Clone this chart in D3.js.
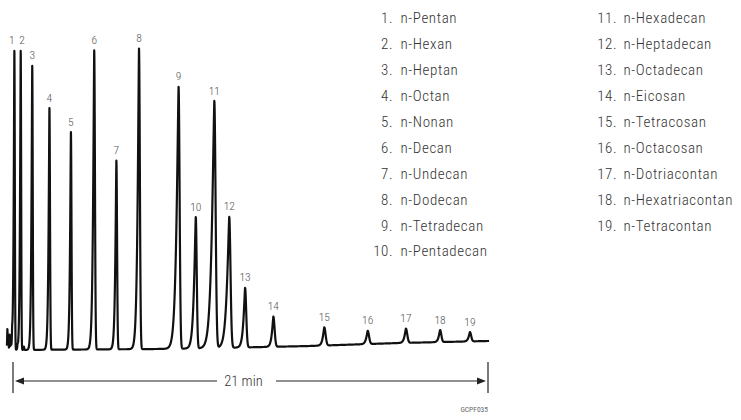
<!DOCTYPE html>
<html>
<head>
<meta charset="utf-8">
<script src="https://cdn.jsdelivr.net/npm/d3@7"></script>
<style>
  body { margin: 0; background: #fff; }
  svg { display: block; }
  text { font-family: "Liberation Sans Narrow", "Roboto Condensed", "DejaVu Sans Condensed", "Arial Narrow", sans-serif; }
</style>
</head>
<body>
<svg width="741" height="420"></svg>
<script>
// peak table
const compounds = ["n-Pentan", "n-Hexan", "n-Heptan", "n-Octan", "n-Nonan", "n-Decan", "n-Undecan",
  "n-Dodecan", "n-Tetradecan", "n-Pentadecan", "n-Hexadecan", "n-Heptadecan", "n-Octadecan",
  "n-Eicosan", "n-Tetracosan", "n-Octacosan", "n-Dotriacontan", "n-Hexatriacontan", "n-Tetracontan"];
const retention = [0.06, 0.34, 0.85, 1.61, 2.56, 3.59, 4.57, 5.57, 7.32, 8.08, 8.90, 9.56,
  10.26, 11.51, 13.76, 15.68, 17.37, 18.88, 20.20];
const heights = [99, 99, 94, 80, 72, 99, 62.5, 99.5, 86.7, 43.5, 81.8, 43.3, 19.7, 10, 6, 4.4, 4.7, 4, 3.1];
const leadWidth = [0.04, 0.04, 0.045, 0.05, 0.05, 0.065, 0.06, 0.08, 0.12, 0.1, 0.14, 0.13,
  0.09, 0.08, 0.08, 0.08, 0.08, 0.075, 0.075];
const tailWidth = [0.02, 0.02, 0.022, 0.025, 0.025, 0.032, 0.03, 0.038, 0.045, 0.042, 0.055, 0.055,
  0.05, 0.055, 0.06, 0.06, 0.06, 0.055, 0.055];

// solvent front junk at the start
const solventTimes = [-0.25, -0.21, -0.15, -0.1, -0.04, 0.2, 0.48];
const solventHeights = [6.8, 4.5, 5, 3.2, 3.5, 1.3, 1.1];

// baseline drift
const baselineTimes = [-0.3, 6, 8, 13, 17, 21.1];
const baselineLevels = [0, 0.3, 0.5, 1.3, 2.3, 3.0];

const runMinutes = 21;
const runLabel = "21 min";
const figureCode = "GCPF035";

const svg = d3.select("svg");

const x = d3.scaleLinear().domain([0, runMinutes]).range([13, 488]);
const y = d3.scaleLinear().domain([0, 100]).range([350, 48]);
const baseline = d3.scaleLinear().domain(baselineTimes).range(baselineLevels).clamp(true);

function peakShape(t, t0, h, wl, wr) {
  const d = t - t0;
  if (d < 0) return h * Math.exp(-Math.pow(-d / wl, 1.25));
  return h * Math.exp(-0.5 * (d / wr) * (d / wr));
}

function signal(t) {
  let v = baseline(t);
  retention.forEach((t0, i) => { v += peakShape(t, t0, heights[i], leadWidth[i], tailWidth[i]); });
  solventTimes.forEach((t0, i) => { v += peakShape(t, t0, solventHeights[i], 0.014, 0.014); });
  return v;
}

const trace = d3.range(-0.27, runMinutes + 0.05, 0.002).map(t => ({ t, v: signal(t) }));

svg.append("path")
  .datum(trace)
  .attr("fill", "none")
  .attr("stroke", "#111")
  .attr("stroke-width", 2.2)
  .attr("stroke-linejoin", "round")
  .attr("d", d3.line().x(d => x(d.t)).y(d => y(d.v)));

// peak numbers
svg.append("g")
  .selectAll("text")
  .data(retention)
  .join("text")
    .attr("x", (d, i) => x(d) + (i === 0 ? -2.5 : i === 1 ? 1.3 : 0))
    .attr("y", (d, i) => y(heights[i] + baseline(d)) - 6.5)
    .attr("text-anchor", "middle")
    .attr("font-size", 11.5)
    .attr("font-weight", 300)
    .attr("fill", "#555")
    .text((d, i) => i + 1);

// legend, two columns
const legend = svg.append("g");
const rows = legend.selectAll("g")
  .data(compounds)
  .join("g")
    .attr("transform", (d, i) => `translate(${i < 10 ? 393 : 617}, ${23.3 + (i % 10) * 25.9})`);
rows.append("text")
  .attr("text-anchor", "end")
  .attr("font-size", 15)
  .attr("font-weight", 300)
  .attr("letter-spacing", 0.5)
  .attr("fill", "#333")
  .text((d, i) => `${i + 1}.`);
rows.append("text")
  .attr("x", (d, i) => i < 10 ? 7.5 : 6.5)
  .attr("font-size", 15)
  .attr("font-weight", 300)
  .attr("letter-spacing", 0.6)
  .attr("fill", "#333")
  .text(d => d);

// run time bar
const bar = svg.append("g").attr("stroke", "#222").attr("stroke-width", 1.2);
[0, runMinutes].forEach(t => {
  bar.append("line").attr("x1", x(t)).attr("x2", x(t)).attr("y1", 362).attr("y2", 393);
});
bar.append("line").attr("x1", x(0) + 4).attr("x2", 217).attr("y1", 381).attr("y2", 381);
bar.append("line").attr("x1", 276).attr("x2", x(runMinutes) - 4).attr("y1", 381).attr("y2", 381);
svg.append("path")
  .attr("fill", "#222")
  .attr("d", `M${x(0) + 2},381 l9,-3.5 l0,7 z M${x(runMinutes) - 2},381 l-9,-3.5 l0,7 z`);
svg.append("text")
  .attr("x", 243.5)
  .attr("y", 386)
  .attr("text-anchor", "middle")
  .attr("font-size", 14.5)
  .attr("font-weight", 300)
  .attr("fill", "#333")
  .text(runLabel);

svg.append("text")
  .attr("x", 488)
  .attr("y", 412)
  .attr("text-anchor", "end")
  .attr("font-size", 7.5)
  .attr("fill", "#666")
  .text(figureCode);
</script>
</body>
</html>
